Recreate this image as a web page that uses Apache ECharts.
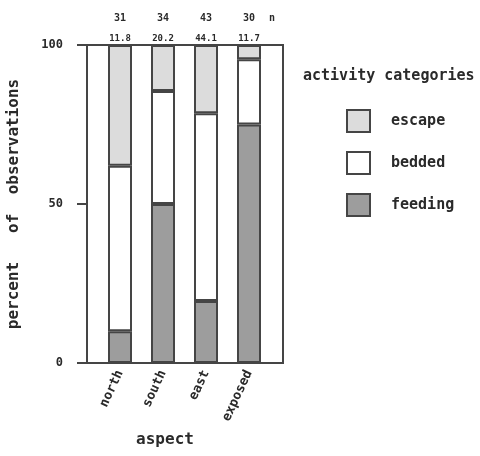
<!DOCTYPE html>
<html><head><meta charset="utf-8">
<script src="https://cdn.jsdelivr.net/npm/echarts@6/dist/echarts.min.js"></script>
<style>html,body{margin:0;padding:0;background:#fff}#c{width:480px;height:456px}</style>
</head><body><div id="c"></div>
<script>
const aspects = ['north', 'south', 'east', 'exposed'];
const feeding = [10, 50, 19.5, 75];
const bedded = [52, 35.5, 59, 20.5];
const escape = [38, 14.5, 21.5, 4.5];
const nObs = ['31', '34', '43', '30'];
const topValues = ['11.8', '20.2', '44.1', '11.7'];
const seriesNames = ['escape', 'bedded', 'feeding'];

const FONT = 'DejaVu Sans Mono';
const INK = '#2a2a2a';
const EDGE = '#454545';
const chart = echarts.init(document.getElementById('c'));

function barSeries(name, data, color, extra) {
  return Object.assign({
    name: name, type: 'bar', stack: 'total', data: data,
    xAxisIndex: 1, yAxisIndex: 1, barWidth: 24,
    itemStyle: { color: color, borderColor: EDGE, borderWidth: 2 }
  }, extra || {});
}

chart.setOption({
  animation: false,
  backgroundColor: '#fff',
  grid: [
    { left: 87, top: 45, width: 196, height: 318, show: true, borderColor: EDGE, borderWidth: 2, backgroundColor: 'transparent' },
    { left: 98.5, top: 45, width: 172, height: 318 }
  ],
  xAxis: [
    { gridIndex: 0, type: 'value', min: 0, max: 1, show: false },
    { gridIndex: 1, type: 'category', data: aspects,
      axisLine: { show: false }, axisTick: { show: false },
      axisLabel: { rotate: 65, margin: 8, color: INK, fontFamily: FONT, fontWeight: 'bold', fontSize: 13 } }
  ],
  yAxis: [
    { gridIndex: 0, type: 'value', min: 0, max: 100, interval: 50,
      name: 'percent   of  observations', nameLocation: 'middle', nameGap: 65, nameRotate: 90,
      nameTextStyle: { color: INK, fontFamily: FONT, fontWeight: 'bold', fontSize: 16 },
      axisLine: { show: true, lineStyle: { color: EDGE, width: 2 } },
      axisTick: { show: true, length: 10, lineStyle: { color: EDGE, width: 2 } },
      axisLabel: { margin: 24, color: INK, fontFamily: FONT, fontWeight: 'bold', fontSize: 12 },
      splitLine: { show: false } },
    { gridIndex: 1, type: 'value', min: 0, max: 100, show: false }
  ],
  legend: {
    data: seriesNames, orient: 'vertical', left: 346, top: 109, padding: 0,
    itemWidth: 23, itemHeight: 22, itemGap: 18, icon: 'rect',
    itemStyle: { borderColor: EDGE, borderWidth: 2 },
    textStyle: { color: INK, fontFamily: FONT, fontWeight: 'bold', fontSize: 15, padding: [0, 0, 0, 16] }
  },
  graphic: [
    { type: 'text', left: 303, top: 69, style: { text: 'activity categories', fill: INK, font: 'bold 15px "DejaVu Sans Mono"' } },
    { type: 'text', left: 269, top: 13, style: { text: 'n', fill: INK, font: 'bold 10px "DejaVu Sans Mono"' } },
    { type: 'text', x: 165, y: 440, style: { text: 'aspect', fill: INK, font: 'bold 16px "DejaVu Sans Mono"', align: 'center', verticalAlign: 'middle' } }
  ],
  series: [
    barSeries('feeding', feeding, '#9d9d9d'),
    barSeries('bedded', bedded, '#ffffff'),
    barSeries('escape', escape, '#dcdcdc', {
      label: {
        show: true, position: 'top', distance: -1,
        formatter: p => '{a|' + nObs[p.dataIndex] + '}\n{b|' + topValues[p.dataIndex] + '}',
        rich: {
          a: { fontFamily: FONT, fontWeight: 'bold', fontSize: 10, color: INK, lineHeight: 28 },
          b: { fontFamily: FONT, fontWeight: 'bold', fontSize: 9, color: INK, lineHeight: 14 }
        }
      }
    })
  ]
});
</script></body></html>
